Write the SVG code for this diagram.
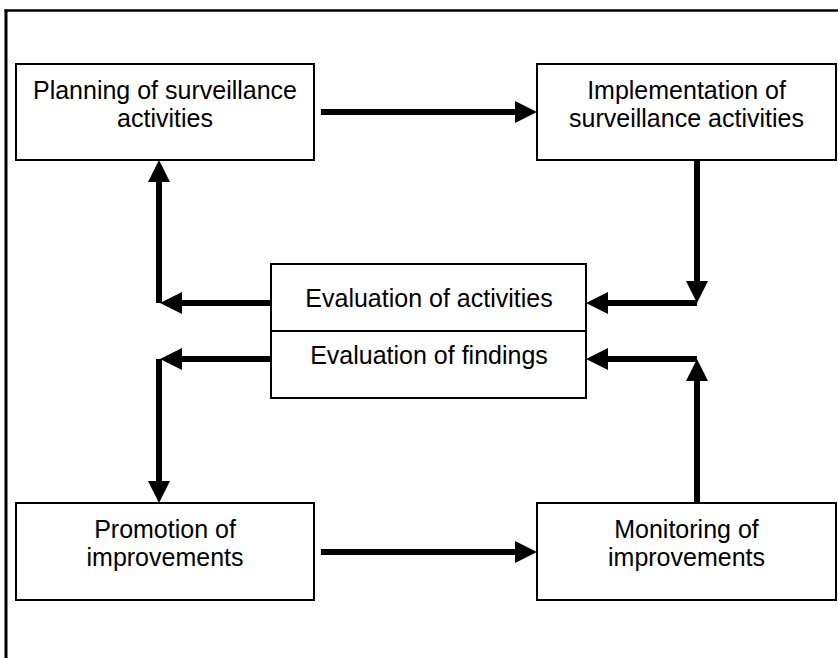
<svg xmlns="http://www.w3.org/2000/svg" width="838" height="658" viewBox="0 0 838 658">
  <style>
    .box { fill: #ffffff; stroke: #000000; stroke-width: 2; }
    .frame { fill: none; stroke: #000000; }
    .conn { fill: none; stroke: #000000; stroke-width: 6; stroke-linecap: butt; }
    .label { font-family: "Liberation Sans", Arial, Helvetica, sans-serif; font-size: 25px; fill: #000000; text-anchor: middle; }
  </style>
  <defs>
    <marker id="head" markerUnits="userSpaceOnUse" markerWidth="22" markerHeight="22" refX="0" refY="11" orient="auto">
      <path d="M0,0 L22,11 L0,22 Z" fill="#000000"/>
    </marker>
  </defs>
  <rect width="838" height="658" fill="#ffffff"/>
  <g id="frame">
    <line class="frame" x1="6" y1="9.5" x2="6" y2="658" stroke-width="3"/>
    <line class="frame" x1="4.5" y1="10.5" x2="838" y2="10.5" stroke-width="2.5"/>
  </g>
  <g id="connectors">
    <path class="conn" d="M321,112 H515" marker-end="url(#head)"/>
    <path class="conn" d="M321,552 H515" marker-end="url(#head)"/>
    <path class="conn" d="M271,303 H182" marker-end="url(#head)"/>
    <path class="conn" d="M159,303 V182" marker-end="url(#head)"/>
    <path class="conn" d="M697,160 V281" marker-end="url(#head)"/>
    <path class="conn" d="M697,303 H608" marker-end="url(#head)"/>
    <path class="conn" d="M271,359 H182" marker-end="url(#head)"/>
    <path class="conn" d="M159,359 V481" marker-end="url(#head)"/>
    <path class="conn" d="M697,503 V381" marker-end="url(#head)"/>
    <path class="conn" d="M697,359 H608" marker-end="url(#head)"/>
  </g>
  <g id="planning">
    <rect class="box" x="16" y="64" width="298" height="96"/>
    <text class="label" x="165" y="99">Planning of surveillance</text>
    <text class="label" x="165" y="127">activities</text>
  </g>
  <g id="implementation">
    <rect class="box" x="537" y="64" width="299" height="96"/>
    <text class="label" x="686.5" y="99">Implementation of</text>
    <text class="label" x="686.5" y="127">surveillance activities</text>
  </g>
  <g id="evaluation">
    <rect class="box" x="271" y="264" width="315" height="134"/>
    <line x1="271" y1="331" x2="586" y2="331" stroke="#000000" stroke-width="2"/>
    <text class="label" x="429" y="307">Evaluation of activities</text>
    <text class="label" x="429" y="364">Evaluation of findings</text>
  </g>
  <g id="promotion">
    <rect class="box" x="16" y="503" width="298" height="97"/>
    <text class="label" x="165" y="538">Promotion of</text>
    <text class="label" x="165" y="566">improvements</text>
  </g>
  <g id="monitoring">
    <rect class="box" x="537" y="503" width="299" height="97"/>
    <text class="label" x="686.5" y="538">Monitoring of</text>
    <text class="label" x="686.5" y="566">improvements</text>
  </g>
</svg>
